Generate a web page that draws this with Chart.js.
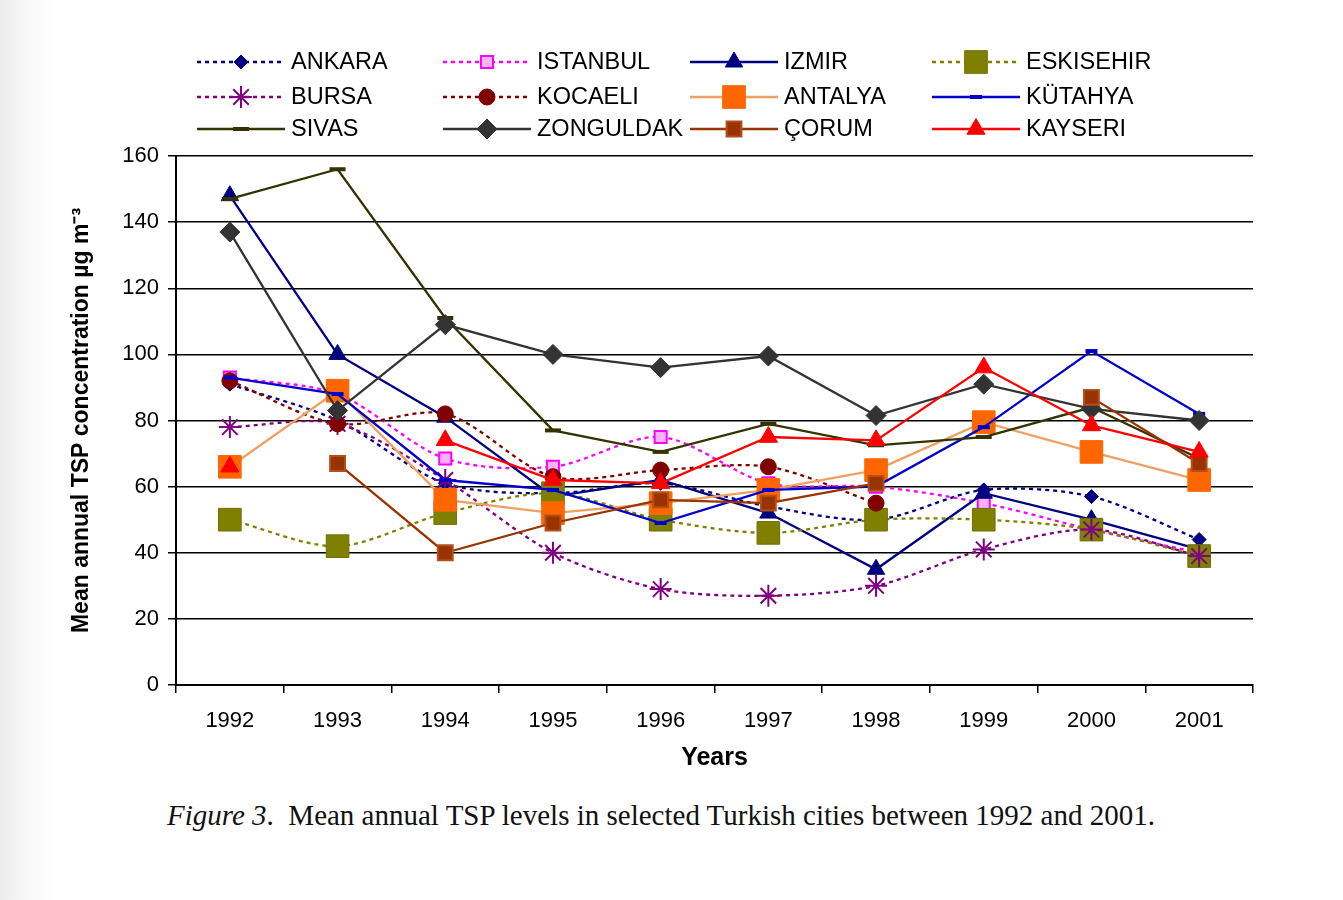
<!DOCTYPE html>
<html>
<head>
<meta charset="utf-8">
<title>Mean annual TSP levels</title>
<script src="https://cdn.jsdelivr.net/npm/chart.js@4.4.1/dist/chart.umd.min.js"></script>
<style>
  html, body { margin: 0; padding: 0; }
  body {
    width: 1343px; height: 900px; overflow: hidden;
    background: linear-gradient(to right, #ececec 0px, #f7f7f7 25px, #ffffff 55px);
    position: relative;
  }
  #wrap { position: absolute; left: 0; top: 0; width: 1343px; height: 790px; }
  #caption {
    position: absolute; left: 0; top: 799px; width: 1322px; text-align: center;
    font-family: "Liberation Serif", "DejaVu Serif", serif; font-size: 29px; color: #111;
  }
</style>
</head>
<body>
<div id="wrap"><canvas id="tspChart"></canvas></div>
<div id="caption"><i>Figure 3</i>.&nbsp; Mean annual TSP levels in selected Turkish cities between 1992 and 2001.</div>

<script>
// years on the x axis
const years = ['1992', '1993', '1994', '1995', '1996', '1997', '1998', '1999', '2000', '2001'];
const yTicks = [0, 20, 40, 60, 80, 100, 120, 140, 160];

// mean annual TSP, µg m-3
const ankara    = [91, 80, 61, 58, 61, 54, 50, 59, 57, 44];
const istanbul  = [93, 88, 68.5, 66, 75, 61, 60, 55, 47, 40];
const izmir     = [148, 100, 81, 57, 62, 52, 35, 58, 50, 41];
const eskisehir = [50, 42, 52, 58, 50, 46, 50, 50, 47, 39];
const bursa     = [78, 79, 62, 40, 29, 27, 30, 41, 47, 39];
const kocaeli   = [92, 79, 82, 63, 65, 66, 55, null, null, null];
const antalya   = [66, 89, 56, 52, 55, 59, 65, 79.5, 70.5, 62];
const kutahya   = [93, 88, 62, 59, 49, 59, 60, 78, 101, 82];
const sivas     = [147, 156, 111, 77, 70.5, 79, 72.5, 75, 84, 68.5];
const zonguldak = [137, 83, 109, 100, 96, 99.5, 81.5, 91, 83.5, 80];
const corum     = [null, 67, 40, 49, 56, 55, 61, null, 87, 67];
const kayseri   = [66, null, 74, 62, 61, 75, 74, 96, 78.5, 70.5];

const dotted = [4, 4];

// series styles, in legend order (row by row)
const series = [
  { label: 'ANKARA',    data: ankara,    line: '#000080', fill: '#000080', stroke: '#000080', dash: dotted, point: 'rectRot',  r: 7,    bw: 1, smooth: true },
  { label: 'ISTANBUL',  data: istanbul,  line: '#ff00ff', fill: '#ffb3ff', stroke: '#ff00ff', dash: dotted, point: 'rect',     r: 8.5,  bw: 2, smooth: true },
  { label: 'IZMIR',     data: izmir,     line: '#000080', fill: '#000080', stroke: '#000080', dash: [],     point: 'triangle', r: 10,   bw: 1 },
  { label: 'ESKISEHIR', data: eskisehir, line: '#808000', fill: '#808000', stroke: '#6f6f00', dash: dotted, point: 'rect',     r: 16,   bw: 1, smooth: true },
  { label: 'BURSA',     data: bursa,     line: '#800080', fill: '#800080', stroke: '#800080', dash: dotted, point: 'star',     r: 11,   bw: 2, smooth: true },
  { label: 'KOCAELI',   data: kocaeli,   line: '#800000', fill: '#800000', stroke: '#800000', dash: dotted, point: 'circle',   r: 8,    bw: 1, smooth: true },
  { label: 'ANTALYA',   data: antalya,   line: '#f0a060', fill: '#ff6600', stroke: '#ff6600', dash: [],     point: 'rect',     r: 16,   bw: 1 },
  { label: 'KÜTAHYA',   data: kutahya,   line: '#0000cc', fill: '#0000cc', stroke: '#0000cc', dash: [],     point: 'line',     r: 6,    bw: 4 },
  { label: 'SIVAS',     data: sivas,     line: '#333300', fill: '#333300', stroke: '#333300', dash: [],     point: 'line',     r: 8,    bw: 4 },
  { label: 'ZONGULDAK', data: zonguldak, line: '#333333', fill: '#333333', stroke: '#333333', dash: [],     point: 'rectRot',  r: 10,   bw: 1 },
  { label: 'ÇORUM',     data: corum,     line: '#993300', fill: '#993300', stroke: '#b0501a', dash: [],     point: 'rect',     r: 10.5, bw: 2 },
  { label: 'KAYSERI',   data: kayseri,   line: '#ff0000', fill: '#ff0000', stroke: '#ff0000', dash: [],     point: 'triangle', r: 10.5, bw: 1 }
];

const datasets = series.map((s, i) => ({
  label: s.label,
  data: s.data,
  borderColor: s.line,
  borderWidth: 2.3,
  borderDash: s.dash,
  tension: s.smooth ? 0.3 : 0,
  pointStyle: s.point,
  pointRadius: s.r,
  pointBackgroundColor: s.fill,
  pointBorderColor: s.stroke,
  pointBorderWidth: s.bw,
  fill: false,
  spanGaps: false,
  order: series.length - i   // later series drawn on top, as in the original
}));

// legend in 4 fixed columns drawn into the top padding
const legendCols = [197, 443, 690, 932];
const legendRows = [62, 97, 129];

const gridLegend = {
  id: 'gridLegend',
  afterDraw(chart) {
    const ctx = chart.ctx;
    ctx.save();
    series.forEach((s, i) => {
      const x0 = legendCols[i % 4];
      const y = legendRows[Math.floor(i / 4)];
      const x1 = x0 + 88;
      ctx.beginPath();
      ctx.setLineDash(s.dash);
      ctx.strokeStyle = s.line;
      ctx.lineWidth = 2.3;
      ctx.moveTo(x0, y);
      ctx.lineTo(x1, y);
      ctx.stroke();
      ctx.setLineDash([]);
      ctx.fillStyle = s.fill;
      ctx.strokeStyle = s.stroke;
      ctx.lineWidth = s.bw;
      Chart.helpers.drawPoint(ctx, { pointStyle: s.point, radius: s.r, rotation: 0, borderWidth: s.bw }, (x0 + x1) / 2, y);
      ctx.fillStyle = '#000';
      ctx.font = '23.5px "Liberation Sans", Arial, sans-serif';
      ctx.textBaseline = 'middle';
      ctx.textAlign = 'left';
      ctx.fillText(s.label, x1 + 6, y + 1);
    });
    ctx.restore();
  }
};

Chart.defaults.font.family = '"Liberation Sans", Arial, sans-serif';
Chart.defaults.color = '#000';

new Chart(document.getElementById('tspChart'), {
  type: 'line',
  data: { labels: years, datasets: datasets },
  plugins: [gridLegend],
  options: {
    responsive: true,
    maintainAspectRatio: false,
    animation: false,
    layout: { padding: { top: 156, right: 90, bottom: 0, left: 0 } },
    plugins: {
      legend: { display: false },
      tooltip: { enabled: false }
    },
    scales: {
      x: {
        type: 'category',
        offset: true,
        afterFit: (scale) => { scale.height = 105; },
        grid: { drawOnChartArea: false, drawTicks: true, tickLength: 8, color: '#000', lineWidth: 1.5, offset: true },
        border: { color: '#000', width: 2 },
        ticks: { font: { size: 22 }, color: '#000', padding: 15, maxRotation: 0 },
        title: { display: true, text: 'Years', font: { size: 25, weight: 'bold' }, color: '#000', padding: { top: 0, bottom: 17 } }
      },
      y: {
        min: 0,
        max: 160,
        afterFit: (scale) => { scale.width = 176; },
        afterBuildTicks: (scale) => { scale.ticks = yTicks.map(v => ({ value: v })); },
        grid: { color: '#000', lineWidth: 1.5, tickLength: 8, drawTicks: true },
        border: { color: '#000', width: 2 },
        ticks: { font: { size: 22 }, color: '#000', padding: 9 },
        title: { display: true, text: 'Mean annual TSP concentration µg m⁻³', font: { size: 23, weight: 'bold' }, color: '#000', padding: { top: 68, bottom: 0 } }
      }
    }
  }
});
</script>
</body>
</html>
